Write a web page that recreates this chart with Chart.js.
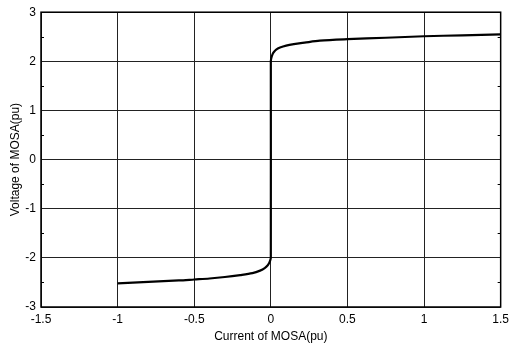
<!DOCTYPE html>
<html>
<head>
<meta charset="utf-8">
<script src="https://cdn.jsdelivr.net/npm/chart.js@4/dist/chart.umd.min.js"></script>
<style>
  html, body { margin: 0; padding: 0; background: #fff; }
  #wrap { width: 514px; height: 350px; }
</style>
</head>
<body>
<div id="wrap"><canvas id="vi"></canvas></div>
<script>
// V-I characteristic of the MOSA
const currentPu = [-1, -0.8, -0.6, -0.5, -0.4, -0.3, -0.2, -0.12, -0.07, -0.04, -0.02, -0.01, -0.004, 0,
                   0, 0.002, 0.006, 0.012, 0.02, 0.035, 0.06, 0.1, 0.15, 0.22, 0.32, 0.5, 0.75, 1.0, 1.25, 1.5]
const voltagePu = [-2.52, -2.49, -2.46, -2.44, -2.42, -2.39, -2.35, -2.31, -2.26, -2.21, -2.15, -2.1, -2.05, -2.0,
                   2.0, 2.05, 2.1, 2.15, 2.19, 2.24, 2.28, 2.32, 2.35, 2.38, 2.42, 2.45, 2.48, 2.51, 2.53, 2.55]
const xTicks = [-1.5, -1, -0.5, 0, 0.5, 1, 1.5]
const yTicks = [-3, -2, -1, 0, 1, 2, 3]
const yMinorTicks = [-2.5, -1.5, -0.5, 0.5, 1.5, 2.5]

const font = { family: "'Liberation Sans', Arial, sans-serif", size: 12 }

const boxPlugin = {
    id: 'box',
    afterDatasetsDraw(chart) {
        const { ctx, chartArea: a, scales } = chart
        ctx.save()
        ctx.strokeStyle = '#000'
        ctx.lineWidth = 1
        // small inside ticks at the half steps, like the original axes
        yMinorTicks.forEach(v => {
            const y = Math.round(scales.y.getPixelForValue(v)) + 0.5
            ctx.beginPath()
            ctx.moveTo(a.left, y); ctx.lineTo(a.left + 3, y)
            ctx.moveTo(a.right, y); ctx.lineTo(a.right - 3, y)
            ctx.stroke()
        })
        ctx.lineWidth = 1.5
        ctx.strokeRect(a.left, a.top, a.right - a.left, a.bottom - a.top)
        ctx.restore()
    }
}

new Chart(document.getElementById('vi'), {
    type: 'scatter',
    data: {
        datasets: [{
            data: currentPu.map((c, i) => ({ x: c, y: voltagePu[i] })),
            showLine: true,
            borderColor: '#000',
            borderWidth: 2.2,
            pointRadius: 0,
            tension: 0.3
        }]
    },
    options: {
        responsive: true,
        maintainAspectRatio: false,
        animation: false,
        layout: { padding: { top: 7, right: 12, left: 0, bottom: 0 } },
        plugins: {
            legend: { display: false },
            tooltip: { enabled: false }
        },
        scales: {
            x: {
                type: 'linear',
                min: -1.5,
                max: 1.5,
                afterBuildTicks: s => { s.ticks = xTicks.map(v => ({ value: v })) },
                afterFit: s => { s.height = 43 },
                ticks: { color: '#000', font, padding: 5, maxRotation: 0, callback: v => String(v) },
                grid: { color: '#222', lineWidth: 1, drawTicks: false },
                border: { display: false },
                title: { display: true, text: 'Current of MOSA(pu)', color: '#000', font, padding: { top: 3, bottom: 6 } }
            },
            y: {
                type: 'linear',
                min: -3,
                max: 3,
                afterBuildTicks: s => { s.ticks = yTicks.map(v => ({ value: v })) },
                afterFit: s => { s.width = 41 },
                ticks: { color: '#000', font, padding: 5, callback: v => String(v) },
                grid: { color: '#222', lineWidth: 1, drawTicks: false },
                border: { display: false },
                title: { display: true, text: 'Voltage of MOSA(pu)', color: '#000', font, padding: { top: 8, bottom: 4 } }
            }
        }
    },
    plugins: [boxPlugin]
})
</script>
</body>
</html>
